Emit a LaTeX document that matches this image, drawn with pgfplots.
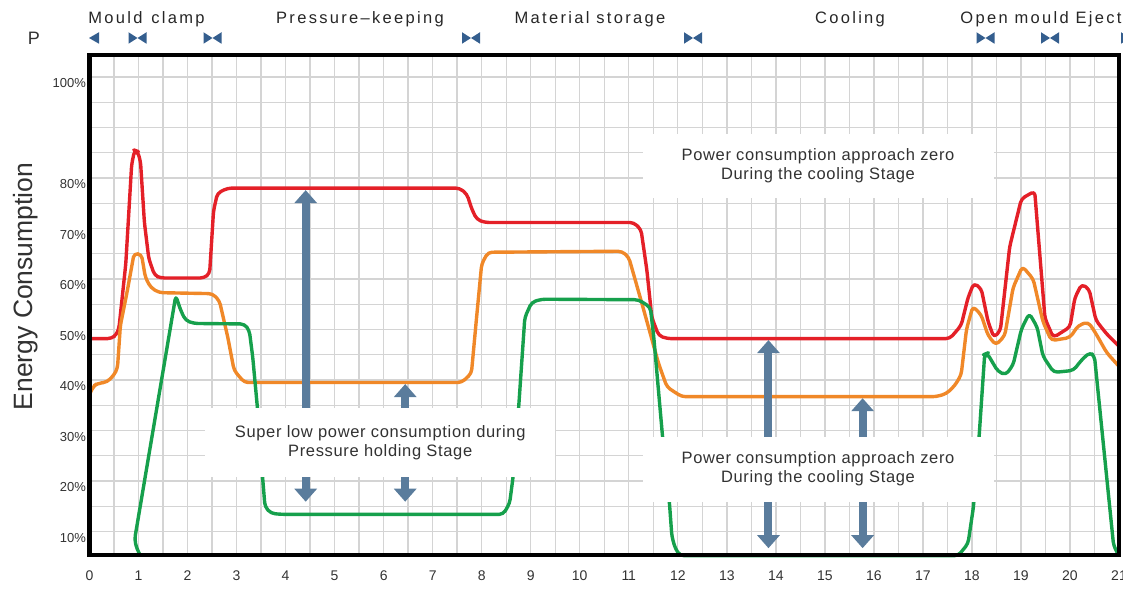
\documentclass[border=0pt]{standalone}
\usepackage{fontspec}
\setmainfont{Liberation Sans}
\newfontfamily\phasefont[LetterSpace=14]{Liberation Sans}
\newfontfamily\notefont[LetterSpace=4]{Liberation Sans}
\usepackage{pgfplots}
\pgfplotsset{compat=1.18}
\usetikzlibrary{arrows.meta}
\definecolor{cred}{RGB}{228,32,40}
\definecolor{corange}{RGB}{240,136,40}
\definecolor{cgreen}{RGB}{22,160,76}
\definecolor{carrow}{RGB}{90,124,156}
\definecolor{cbow}{RGB}{52,94,142}
\definecolor{cgrid}{RGB}{212,212,212}
\definecolor{ctext}{RGB}{50,50,50}
\newcommand{\bowmark}[1]{%
  \fill[cbow] (#1pt,551pt) -- ++(-9pt,5.75pt) -- ++(0,-11.5pt) -- cycle;
  \fill[cbow] (#1pt,551pt) -- ++(9pt,5.75pt) -- ++(0,-11.5pt) -- cycle;}
\begin{document}
\begin{tikzpicture}
\begin{axis}[
  at={(89.5pt,34pt)}, anchor=south west,
  scale only axis, width=1029.5pt, height=500pt,
  xmin=0, xmax=21, ymin=5.35, ymax=104.36,
  xtick={0,...,21}, minor xtick={0.5,1.5,...,20.5},
  ytick={10,20,30,40,50,60,70,80,100},
  yticklabels={10\%,20\%,30\%,40\%,50\%,60\%,70\%,80\%,100\%},
  minor ytick={15,25,35,45,55,65,75,85,90,95},
  grid=both,
  major grid style={cgrid, line width=1.4pt},
  minor grid style={cgrid, line width=1.4pt},
  major tick length=0pt, minor tick length=0pt,
  axis line style={line width=4.5pt, black},
  /pgf/number format/assume math mode=true,
  tick label style={text=ctext},
  xticklabel style={font=\fontsize{14}{16}\selectfont, yshift=-12pt},
  yticklabel style={font=\fontsize{13}{15}\selectfont, yshift=-6.5pt},
  clip=false,
]
% red
\addplot[cred, line width=3.4pt, rounded corners=4pt, line join=round] coordinates {
(0,48.2) (0.45,48.2) (0.55,49.0) (0.6,50.2) (0.74,63.0) (0.86,82.7) (0.92,85.5) (0.98,85.3) (1.04,83.3) (1.12,71.2) (1.21,64.0) (1.33,60.7) (1.45,60.2) (2.34,60.2) (2.45,61.1) (2.53,73.5) (2.61,77.0) (2.82,78.0) (7.55,78.0) (7.7,76.8) (7.8,73.8) (7.9,71.8) (8.06,71.2) (11.1,71.2) (11.25,69.8) (11.37,61.7) (11.47,52.4) (11.61,48.8) (11.78,48.2) (17.55,48.2) (17.78,50.8) (17.92,56.3) (18.04,59.2) (18.19,58.1) (18.33,51.5) (18.45,48.4) (18.58,49.8) (18.77,66.4) (19.01,75.9) (19.28,77.4) (19.49,52.2) (19.66,48.4) (20.0,50.5) (20.10,56.3) (20.24,59.0) (20.39,58.0) (20.53,51.8) (20.75,49.1) (21.0,46.7)
};
% orange
\addplot[corange, line width=3.4pt, rounded corners=4pt, line join=round] coordinates {
(0,37.1) (0.08,38.8) (0.16,39.3) (0.36,39.6) (0.5,41.0) (0.57,42.3) (0.63,50.8) (0.77,57.6) (0.91,65.1) (1.06,64.9) (1.14,60.3) (1.25,58.3) (1.42,57.3) (2.51,57.1) (2.65,55.7) (2.82,48.5) (2.95,41.9) (3.16,39.5) (7.59,39.5) (7.79,41.3) (7.89,51.8) (8.0,63.0) (8.13,65.3) (10.86,65.5) (11.0,64.3) (11.27,55.1) (11.61,43.2) (11.78,38.6) (12.08,36.7) (17.27,36.7) (17.48,37.3) (17.65,38.9) (17.78,41.0) (17.89,50.1) (18.02,54.6) (18.19,52.9) (18.33,48.8) (18.49,46.9) (18.67,48.8) (18.84,58.3) (19.03,62.5) (19.25,60.0) (19.45,51.5) (19.62,47.8) (20.0,48.4) (20.17,50.8) (20.37,51.5) (20.51,49.5) (20.75,45.4) (21.0,42.7)
};
% green
\addplot[cgreen, line width=3.4pt, rounded corners=4pt, line join=round] coordinates {
(1.04,5.2) (0.97,6.5) (0.92,8.4) (1.76,56.7) (1.86,53.8) (1.96,51.8) (2.13,51.2) (3.16,51.1) (3.26,49.8) (3.33,44.5) (3.43,34.0) (3.53,20.8) (3.58,14.9) (3.70,13.6) (3.91,13.4) (8.44,13.4) (8.57,15.6) (8.64,20.8) (8.75,34.0) (8.88,52.4) (9.02,55.4) (9.22,56.0) (11.2,55.9) (11.44,54.4) (11.51,48.5) (11.69,28.7) (11.83,15.6) (11.88,9.0) (11.95,6.6) (12.05,5.2) (17.72,5.2) (17.92,7.6) (18.03,14.8) (18.15,29.3) (18.26,45.1) (18.31,45.3) (18.53,41.7) (18.69,41.0) (18.84,43.0) (19.01,50.1) (19.17,53.2) (19.33,50.5) (19.45,44.7) (19.67,41.5) (20.07,41.9) (20.24,44.0) (20.41,45.5) (20.50,44.7) (20.89,7.2) (21.0,5.2)
};
% frame redrawn over the curves
\draw[black, line width=4.5pt] (rel axis cs:0,0) rectangle (rel axis cs:1,1);
% arrows
\draw[carrow, line width=8pt, -{Triangle[width=22pt,length=13pt]}] (axis cs:4.41,30) -- (axis cs:4.41,77.6);
\draw[carrow, line width=8pt, -{Triangle[width=22pt,length=13pt]}] (axis cs:4.41,25) -- (axis cs:4.41,15.9);
\draw[carrow, line width=8pt, -{Triangle[width=22pt,length=13pt]}] (axis cs:6.44,30) -- (axis cs:6.44,39.2);
\draw[carrow, line width=8pt, -{Triangle[width=22pt,length=13pt]}] (axis cs:6.44,25) -- (axis cs:6.44,15.9);
\draw[carrow, line width=8pt, -{Triangle[width=22pt,length=13pt]}] (axis cs:13.85,25) -- (axis cs:13.85,47.9);
\draw[carrow, line width=8pt, -{Triangle[width=22pt,length=13pt]}] (axis cs:13.85,20) -- (axis cs:13.85,6.7);
\draw[carrow, line width=8pt, -{Triangle[width=22pt,length=13pt]}] (axis cs:15.77,25) -- (axis cs:15.77,36.4);
\draw[carrow, line width=8pt, -{Triangle[width=22pt,length=13pt]}] (axis cs:15.77,20) -- (axis cs:15.77,6.7);
% annotation boxes
\fill[white] (axis cs:2.36,20.8) rectangle (axis cs:9.5,34.5);
\fill[white] (axis cs:11.3,76.0) rectangle (axis cs:18.44,88.7);
\fill[white] (axis cs:11.3,15.9) rectangle (axis cs:18.44,28.8);
\node[text=ctext, align=center, font=\notefont\fontsize{16.5}{18.5}\selectfont] at (axis cs:5.93,27.6) {Super low power consumption during\\Pressure holding Stage};
\node[text=ctext, align=center, font=\notefont\fontsize{16.5}{18.5}\selectfont] at (axis cs:14.86,82.4) {Power consumption approach zero\\During the cooling Stage};
\node[text=ctext, align=center, font=\notefont\fontsize{16.5}{18.5}\selectfont] at (axis cs:14.86,22.4) {Power consumption approach zero\\During the cooling Stage};
\end{axis}
% header
\node[anchor=base, font=\fontsize{18}{20}\selectfont, text=ctext] at (34pt,544pt) {P};
\node[anchor=base, font=\phasefont\fontsize{16.5}{18}\selectfont, text=black!85] at (146.5pt,565pt) {Mould\hspace{2pt} clamp};
\node[anchor=base, font=\phasefont\fontsize{16.5}{18}\selectfont, text=black!85] at (360pt,565pt) {Pressure–keeping};
\node[anchor=base, font=\phasefont\fontsize{16.5}{18}\selectfont, text=black!85] at (590pt,565pt) {Material storage};
\node[anchor=base, font=\phasefont\fontsize{16.5}{18}\selectfont, text=black!85] at (850pt,565pt) {Cooling};
\node[anchor=base, font=\phasefont\fontsize{16.5}{18}\selectfont, text=black!85] at (1041pt,565pt) {Open mould Eject};
\fill[cbow] (89pt,551pt) -- (99pt,556.75pt) -- (99pt,545.25pt) -- cycle;
\bowmark{137.5}
\bowmark{212.5}
\bowmark{471}
\bowmark{693}
\bowmark{985.5}
\bowmark{1050}
\bowmark{1130}
% y label
\node[rotate=90, anchor=base, font=\fontsize{26.5}{30}\selectfont, text=ctext] at (32.3pt,302.5pt) {Energy Consumption};
\pgfresetboundingbox
\useasboundingbox (0,0) rectangle (1123pt,589pt);
\end{tikzpicture}
\end{document}
